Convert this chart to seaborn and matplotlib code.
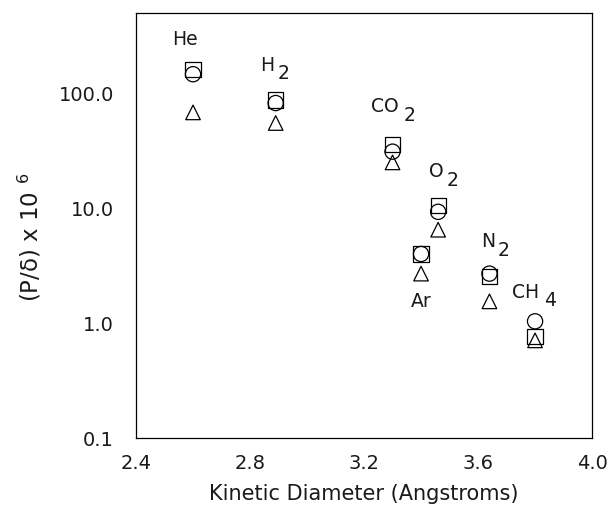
import numpy as np
import pandas as pd
import matplotlib
matplotlib.use("Agg")
import matplotlib.pyplot as plt
import seaborn as sns

# ---- data ----
gases = ["He", "H2", "CO2", "O2", "Ar", "N2", "CH4"]
kinetic_diameter = [2.60, 2.89, 3.30, 3.46, 3.40, 3.64, 3.80]
series_square = [160.0, 87.0, 36.0, 10.5, 4.0, 2.55, 0.77]
series_circle = [146.0, 82.0, 31.0, 9.3, 4.0, 2.70, 1.04]
series_triangle = [68.0, 55.0, 25.0, 6.5, 2.7, 1.55, 0.71]

label_main = ["He", "H", "CO", "O", "Ar", "N", "CH"]
label_sub = ["", "2", "2", "2", "", "2", "4"]
label_x = [2.57, 2.86, 3.272, 3.455, 3.40, 3.635, 3.765]
label_y = [290.0, 175.0, 76.0, 20.7, 1.54, 5.1, 1.85]

x_ticks = [2.4, 2.8, 3.2, 3.6, 4.0]
y_ticks = [0.1, 1.0, 10.0, 100.0]
y_tick_labels = ["0.1", "1.0", "10.0", "100.0"]

sns.set_theme(style="white")
plt.rcParams["font.family"] = ["DejaVu Sans"]
plt.rcParams["text.color"] = "#1a1a1a"

fig = plt.figure(figsize=(6.11, 5.18), dpi=100)
ax = fig.add_axes([0.2226, 0.1538, 0.969 - 0.2226, 0.9755 - 0.1538])

df = pd.DataFrame({
    "d": kinetic_diameter * 3,
    "p": series_square + series_circle + series_triangle,
    "series": ["square"] * 7 + ["circle"] * 7 + ["triangle"] * 7,
})
markers = {"square": "s", "circle": "o", "triangle": "^"}
sizes = {"square": 120, "circle": 120, "triangle": 110}
for name in ["square", "circle", "triangle"]:
    sub = df[df["series"] == name]
    sns.scatterplot(data=sub, x="d", y="p", marker=markers[name], s=sizes[name],
                    facecolor="none", edgecolor="black", linewidth=0.9, ax=ax,
                    legend=False)

ax.set_yscale("log")
ax.set_xlim(2.4, 4.0)
ax.set_ylim(0.1, 500)
ax.set_xticks(x_ticks)
ax.set_xticklabels([f"{v:.1f}" for v in x_ticks])
ax.set_yticks(y_ticks)
ax.set_yticklabels(y_tick_labels)
ax.yaxis.set_minor_locator(matplotlib.ticker.NullLocator())
ax.tick_params(axis="both", direction="in", length=5, width=0.9, color="black",
               labelsize=14, labelcolor="#1a1a1a")
ax.tick_params(axis="y", pad=16)
ax.tick_params(axis="x", pad=11)
for s in ax.spines.values():
    s.set_color("black")
    s.set_linewidth(0.9)

ax.set_xlabel("Kinetic Diameter (Angstroms)", fontsize=15, color="#1a1a1a")
ax.set_ylabel("(P/δ) x 10 $^{6}$", fontsize=16.5, color="#1a1a1a")
ax.xaxis.set_label_coords(0.5, -0.108)
ax.yaxis.set_label_coords(-0.203, 0.473)

for m, sb, x, y in zip(label_main, label_sub, label_x, label_y):
    t = ax.text(x, y, m, fontsize=13.5, ha="center", va="center", color="#1a1a1a")
    if sb:
        ax.annotate(sb, xy=(x, y), xycoords="data", xytext=(len(m) * 6.5 + 5, -6),
                    textcoords="offset points", fontsize=13.5, ha="center", va="center",
                    color="#1a1a1a")

fig.savefig("out.png", dpi=100)
